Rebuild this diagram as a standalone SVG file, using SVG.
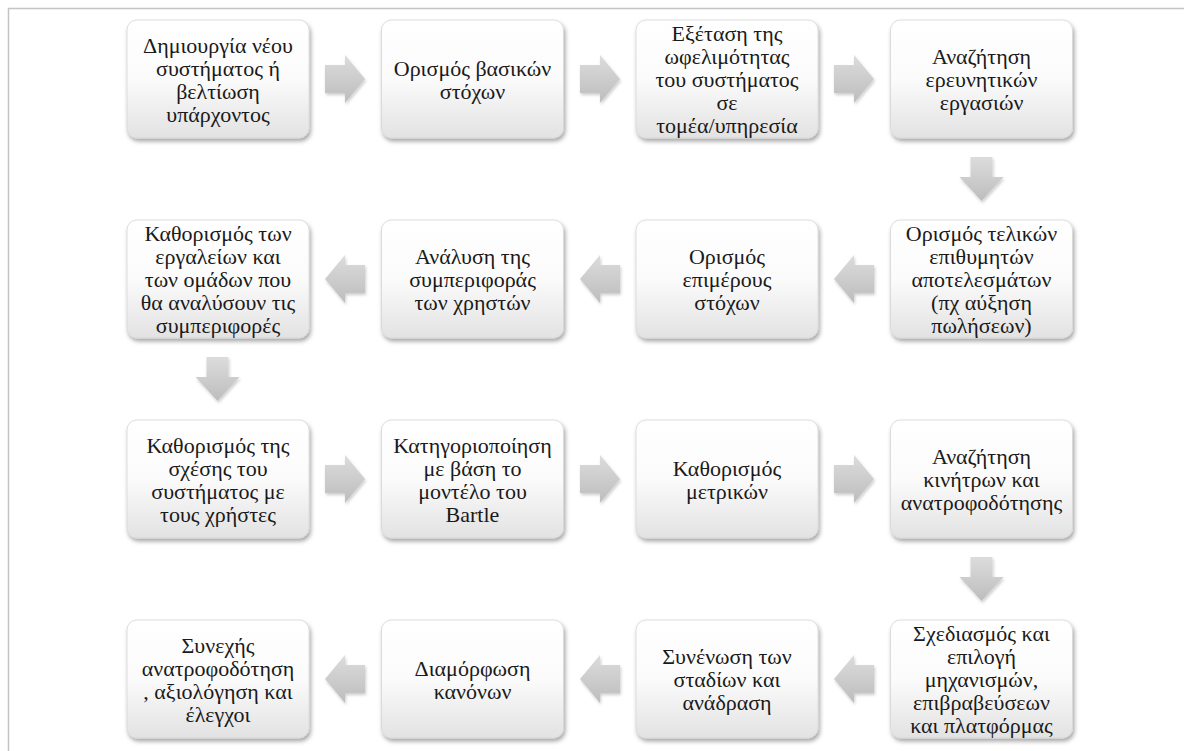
<svg xmlns="http://www.w3.org/2000/svg" width="1184" height="751" viewBox="0 0 1184 751">
<defs>
<linearGradient id="boxg" x1="0" y1="0" x2="0" y2="1">
<stop offset="0" stop-color="#ffffff"/>
<stop offset="0.5" stop-color="#fbfbfb"/>
<stop offset="1" stop-color="#e2e2e2"/>
</linearGradient>
<linearGradient id="arrg" x1="0" y1="0" x2="0" y2="1">
<stop offset="0" stop-color="#dcdcdc"/>
<stop offset="1" stop-color="#bdbdbd"/>
</linearGradient>
<filter id="sh" x="-10%" y="-10%" width="125%" height="130%">
<feDropShadow dx="1.5" dy="3" stdDeviation="2" flood-color="#000" flood-opacity="0.35"/>
</filter>
<filter id="ash" x="-20%" y="-20%" width="150%" height="150%">
<feDropShadow dx="1" dy="2" stdDeviation="1.5" flood-color="#000" flood-opacity="0.2"/>
</filter>
</defs>
<style>
.box{fill:url(#boxg);stroke:#d6d6d6;stroke-width:0.8;filter:url(#sh)}
.arr{fill:url(#arrg);filter:url(#ash)}
.t{fill:#1a1a1a;text-anchor:middle}
</style>
<rect x="8.5" y="8.5" width="1200" height="800" fill="#ffffff" stroke="#c4c4c4" stroke-width="1.5"/>

<g id="connectors">
<path class="arr" d="M325,65 H345 V55 L365,79 L345,103 V93 H325 Z"/>
<path class="arr" d="M580,65 H600 V55 L620,79 L600,103 V93 H580 Z"/>
<path class="arr" d="M834,65 H854 V55 L874,79 L854,103 V93 H834 Z"/>
<path class="arr" d="M970.5,157 H992.5 V177 H1003.5 L981.5,201 L959.5,177 H970.5 Z"/>
<path class="arr" d="M874,265 H854 V255 L834,279 L854,303 V293 H874 Z"/>
<path class="arr" d="M620,265 H600 V255 L580,279 L600,303 V293 H620 Z"/>
<path class="arr" d="M365,265 H345 V255 L325,279 L345,303 V293 H365 Z"/>
<path class="arr" d="M206.5,357 H228.5 V377 H239.5 L217.5,401 L195.5,377 H206.5 Z"/>
<path class="arr" d="M325,465 H345 V455 L365,479 L345,503 V493 H325 Z"/>
<path class="arr" d="M580,465 H600 V455 L620,479 L600,503 V493 H580 Z"/>
<path class="arr" d="M834,465 H854 V455 L874,479 L854,503 V493 H834 Z"/>
<path class="arr" d="M970.5,557 H992.5 V577 H1003.5 L981.5,601 L959.5,577 H970.5 Z"/>
<path class="arr" d="M874,665 H854 V655 L834,679 L854,703 V693 H874 Z"/>
<path class="arr" d="M620,665 H600 V655 L580,679 L600,703 V693 H620 Z"/>
<path class="arr" d="M365,665 H345 V655 L325,679 L345,703 V693 H365 Z"/>
</g>

<g font-family="Liberation Serif, DejaVu Serif, serif" font-size="22">
<g id="n1"><rect class="box" x="127" y="20" width="182" height="118" rx="10"/>
<text class="t" x="218" y="53">Δημιουργία νέου</text><text class="t" x="218" y="76">συστήματος ή</text><text class="t" x="218" y="99">βελτίωση</text><text class="t" x="218" y="122">υπάρχοντος</text></g>
<g id="n2"><rect class="box" x="381.5" y="20" width="182" height="118" rx="10"/>
<text class="t" x="472.5" y="76">Ορισμός βασικών</text><text class="t" x="472.5" y="99">στόχων</text></g>
<g id="n3"><rect class="box" x="636" y="20" width="182" height="118" rx="10"/>
<text class="t" x="727" y="41">Εξέταση της</text><text class="t" x="727" y="64">ωφελιμότητας</text><text class="t" x="727" y="87">του συστήματος</text><text class="t" x="727" y="110">σε</text><text class="t" x="727" y="133">τομέα/υπηρεσία</text></g>
<g id="n4"><rect class="box" x="890.5" y="20" width="182" height="118" rx="10"/>
<text class="t" x="981.5" y="64">Αναζήτηση</text><text class="t" x="981.5" y="87">ερευνητικών</text><text class="t" x="981.5" y="110">εργασιών</text></g>

<g id="n5"><rect class="box" x="890.5" y="220" width="182" height="118" rx="10"/>
<text class="t" x="981.5" y="241">Ορισμός τελικών</text><text class="t" x="981.5" y="264">επιθυμητών</text><text class="t" x="981.5" y="287">αποτελεσμάτων</text><text class="t" x="981.5" y="310">(πχ αύξηση</text><text class="t" x="981.5" y="333">πωλήσεων)</text></g>
<g id="n6"><rect class="box" x="636" y="220" width="182" height="118" rx="10"/>
<text class="t" x="727" y="264">Ορισμός</text><text class="t" x="727" y="287">επιμέρους</text><text class="t" x="727" y="310">στόχων</text></g>
<g id="n7"><rect class="box" x="381.5" y="220" width="182" height="118" rx="10"/>
<text class="t" x="472.5" y="264">Ανάλυση της</text><text class="t" x="472.5" y="287">συμπεριφοράς</text><text class="t" x="472.5" y="310">των χρηστών</text></g>
<g id="n8"><rect class="box" x="127" y="220" width="182" height="118" rx="10"/>
<text class="t" x="218" y="241">Καθορισμός των</text><text class="t" x="218" y="264">εργαλείων και</text><text class="t" x="218" y="287">των ομάδων που</text><text class="t" x="218" y="310">θα αναλύσουν τις</text><text class="t" x="218" y="333">συμπεριφορές</text></g>

<g id="n9"><rect class="box" x="127" y="420" width="182" height="118" rx="10"/>
<text class="t" x="218" y="453">Καθορισμός της</text><text class="t" x="218" y="476">σχέσης του</text><text class="t" x="218" y="499">συστήματος με</text><text class="t" x="218" y="522">τους χρήστες</text></g>
<g id="n10"><rect class="box" x="381.5" y="420" width="182" height="118" rx="10"/>
<text class="t" x="472.5" y="453">Κατηγοριοποίηση</text><text class="t" x="472.5" y="476">με βάση το</text><text class="t" x="472.5" y="499">μοντέλο του</text><text class="t" x="472.5" y="522">Bartle</text></g>
<g id="n11"><rect class="box" x="636" y="420" width="182" height="118" rx="10"/>
<text class="t" x="727" y="476">Καθορισμός</text><text class="t" x="727" y="499">μετρικών</text></g>
<g id="n12"><rect class="box" x="890.5" y="420" width="182" height="118" rx="10"/>
<text class="t" x="981.5" y="464">Αναζήτηση</text><text class="t" x="981.5" y="487">κινήτρων και</text><text class="t" x="981.5" y="510">ανατροφοδότησης</text></g>

<g id="n13"><rect class="box" x="890.5" y="620" width="182" height="118" rx="10"/>
<text class="t" x="981.5" y="641">Σχεδιασμός και</text><text class="t" x="981.5" y="664">επιλογή</text><text class="t" x="981.5" y="687">μηχανισμών,</text><text class="t" x="981.5" y="710">επιβραβεύσεων</text><text class="t" x="981.5" y="733">και πλατφόρμας</text></g>
<g id="n14"><rect class="box" x="636" y="620" width="182" height="118" rx="10"/>
<text class="t" x="727" y="664">Συνένωση των</text><text class="t" x="727" y="687">σταδίων και</text><text class="t" x="727" y="710">ανάδραση</text></g>
<g id="n15"><rect class="box" x="381.5" y="620" width="182" height="118" rx="10"/>
<text class="t" x="472.5" y="676">Διαμόρφωση</text><text class="t" x="472.5" y="699">κανόνων</text></g>
<g id="n16"><rect class="box" x="127" y="620" width="182" height="118" rx="10"/>
<text class="t" x="218" y="653">Συνεχής</text><text class="t" x="218" y="676">ανατροφοδότηση</text><text class="t" x="218" y="699">, αξιολόγηση και</text><text class="t" x="218" y="722">έλεγχοι</text></g>
</g>
</svg>
